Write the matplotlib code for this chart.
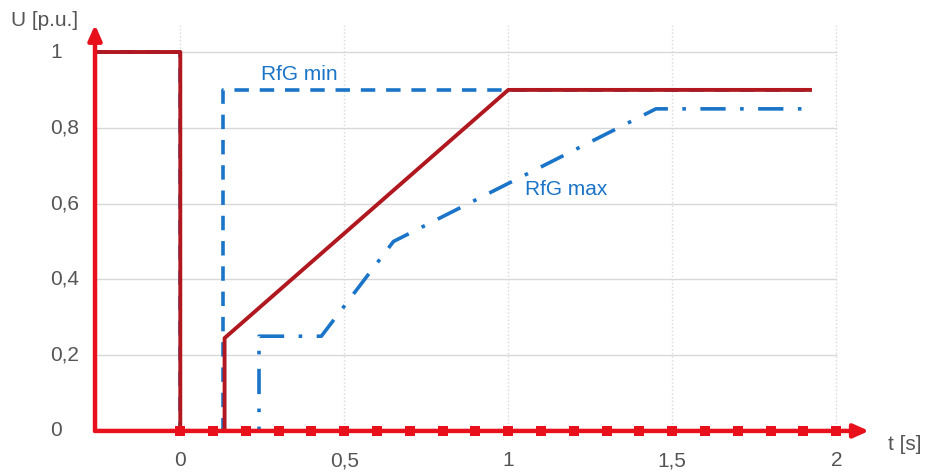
import numpy as np
import matplotlib.pyplot as plt

plt.rcParams["font.family"] = ["Liberation Sans", "DejaVu Sans"]

# Kurvenpunkte (t in s, U in p.u.)
t_unit = [-0.26, 0.0, 0.0, 0.135, 0.135, 1.0, 1.92]
u_unit = [1.0, 1.0, 0.0, 0.0, 0.245, 0.9, 0.9]

t_rfg_min = [-0.26, 0.0, 0.0, 0.13, 0.13, 1.92]
u_rfg_min = [1.0, 1.0, 0.0, 0.0, 0.9, 0.9]

t_rfg_max = [0.0, 0.24, 0.24, 0.43, 0.65, 1.45, 1.92]
u_rfg_max = [0.0, 0.0, 0.25, 0.25, 0.5, 0.85, 0.85]

x_ticks = [0, 0.5, 1, 1.5, 2]
x_labels = ["0", "0,5", "1", "1,5", "2"]
y_ticks = [0, 0.2, 0.4, 0.6, 0.8, 1]
y_labels = ["0", "0,2", "0,4", "0,6", "0,8", "1"]
t_marks = np.round(np.arange(0, 2.01, 0.1), 2)

RED_AX = "#E8101A"
RED = "#B0171F"
BLUE = "#1A74C8"
GRAY = "#555555"
FS = 15

X0, X1 = -0.26, 2.1
Y1 = 1.072

fig = plt.figure(figsize=(9.27, 4.72), dpi=100)
ax = fig.add_axes([0.1025, 0.087, 0.835, 0.863])
ax.set_xlim(X0, X1)
ax.set_ylim(0, 1.075)
ax.axis("off")

# Gitterlinien
for y in y_ticks[1:]:
    ax.plot([X0, 2.0], [y, y], color="#D8D8D8", lw=1.0, zorder=1)
for x in x_ticks:
    ax.plot([x, x], [0, Y1], color="#D8D8D8", lw=1.0, ls=":", zorder=1)

# Kurven
ax.plot(t_rfg_min, u_rfg_min, color=BLUE, lw=2.6, ls=(0, (4, 3)), zorder=3)
ax.plot(t_rfg_max, u_rfg_max, color=BLUE, lw=2.6, ls=(0, (7, 4, 1, 4)), zorder=3)
ax.plot(t_unit, u_unit, color=RED, lw=2.8, zorder=4)

# Achsen mit Pfeilen
arrow = dict(arrowstyle="-|>,head_length=0.9,head_width=0.4", color=RED_AX, lw=3.2,
             shrinkA=0, shrinkB=0)
ax.annotate("", xy=(X1, 0), xytext=(X0, 0), arrowprops=arrow, zorder=5)
ax.annotate("", xy=(X0, Y1), xytext=(X0, 0), arrowprops=arrow, zorder=5)
ax.plot(t_marks, np.zeros_like(t_marks), ls="none", marker="s", ms=7, mew=0,
        color=RED_AX, zorder=6, clip_on=False)

# Beschriftungen
for x, lab in zip(x_ticks, x_labels):
    ax.text(x, -0.079, lab, ha="center", va="center", fontsize=FS, color=GRAY, clip_on=False)
for y, lab in zip(y_ticks, y_labels):
    ax.text(X0 - 0.137, y, lab, ha="left", va="center", fontsize=FS, color=GRAY, clip_on=False)

ax.text(X0 - 0.256, 1.084, "U [p.u.]", ha="left", va="center", fontsize=FS, color=GRAY, clip_on=False)
ax.text(2.158, -0.037, "t [s]", ha="left", va="center", fontsize=FS, color=GRAY, clip_on=False)

ax.text(0.245, 0.94, "RfG min", ha="left", va="center", fontsize=FS, color=BLUE)
ax.text(1.05, 0.636, "RfG max", ha="left", va="center", fontsize=FS, color=BLUE)

fig.savefig("out.png", dpi=100)
